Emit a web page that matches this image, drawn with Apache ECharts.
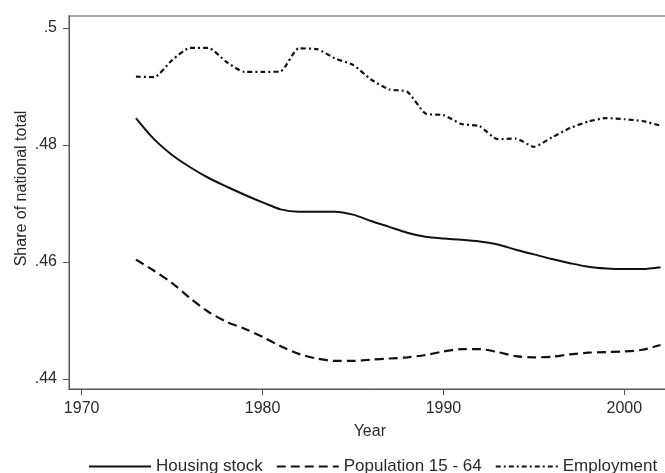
<!DOCTYPE html>
<html>
<head>
<meta charset="utf-8">
<script src="https://cdn.jsdelivr.net/npm/echarts@6/dist/echarts.min.js"></script>
<style>
  html, body { margin: 0; padding: 0; background: #fff; overflow: hidden; width: 665px; height: 473px; }
  #chart { width: 690px; height: 473px; }
</style>
</head>
<body>
<div id="chart"></div>
<script>
const years = [1973,1974,1975,1976,1977,1978,1979,1980,1981,1982,1983,1984,1985,1986,1987,1988,1989,1990,1991,1992,1993,1994,1995,1996,1997,1998,1999,2000,2001,2002];
const housingStock = [0.4846,0.4810,0.4783,0.4762,0.4744,0.4729,0.4715,0.4702,0.4690,0.4686,0.4686,0.4686,0.4681,0.4670,0.4660,0.4650,0.4643,0.4640,0.4638,0.4635,0.4630,0.4621,0.4613,0.4605,0.4598,0.4592,0.4589,0.4588,0.4588,0.4591];
const population = [0.4604,0.4585,0.4564,0.4538,0.4515,0.4498,0.4486,0.4472,0.4456,0.4443,0.4435,0.4431,0.4431,0.4433,0.4435,0.4437,0.4441,0.4447,0.4451,0.4451,0.4446,0.4439,0.4437,0.4438,0.4442,0.4445,0.4446,0.4447,0.4450,0.4458];
const employment = [0.4917,0.4916,0.4945,0.4966,0.4966,0.4942,0.4925,0.4925,0.4926,0.4965,0.4964,0.4948,0.4937,0.4912,0.4895,0.4891,0.4854,0.4851,0.4836,0.4832,0.4810,0.4811,0.4797,0.4813,0.4829,0.4840,0.4846,0.4844,0.4841,0.4833];
const seriesNames = ['Housing stock', 'Population 15 - 64', 'Employment'];
const xTicks = [1970, 1980, 1990, 2000];
const yTicks = [0.44, 0.46, 0.48, 0.5];

const pair = arr => years.map((y, i) => [y, arr[i]]);
const font = 'Liberation Sans, Arial, sans-serif';
const txt = '#2a2a2a';

const chart = echarts.init(document.getElementById('chart'), null, { renderer: 'canvas' });
chart.setOption({
  backgroundColor: '#fff',
  animation: false,
  grid: {
    left: 69, top: 16, right: 11.4, bottom: 84,
    show: true, borderColor: '#aaaaaa', borderWidth: 2, backgroundColor: 'transparent'
  },
  legend: {
    left: 83, top: 453,
    itemWidth: 62, itemHeight: 14, itemGap: 13,
    itemStyle: { opacity: 0, borderWidth: 0 },
    textStyle: { fontFamily: font, fontSize: 17, color: txt },
    data: seriesNames
  },
  xAxis: {
    type: 'value', min: 1969.3, max: 2003,
    name: 'Year', nameLocation: 'middle', nameGap: 35, nameMoveOverlap: false,
    nameTextStyle: { fontFamily: font, fontSize: 16, color: txt, padding: [0, 8, 0, 0] },
    axisLine: { show: true, lineStyle: { color: '#555', width: 1 } },
    axisTick: { show: true, length: 6, inside: false, customValues: xTicks, lineStyle: { color: '#555' } },
    axisLabel: { customValues: xTicks, margin: 12, fontFamily: font, fontSize: 16, color: txt, formatter: v => String(v) },
    splitLine: { show: false }
  },
  yAxis: {
    type: 'value', min: 0.43829, max: 0.50205,
    name: 'Share of national total', nameLocation: 'middle', nameGap: 39, nameRotate: 90, nameMoveOverlap: false,
    nameTextStyle: { fontFamily: font, fontSize: 16, color: txt, padding: [0, 0, 0, 28] },
    axisLine: { show: true, lineStyle: { color: '#555', width: 1 } },
    axisTick: { show: true, length: 6, inside: false, customValues: yTicks, lineStyle: { color: '#555' } },
    axisLabel: { customValues: yTicks, margin: 12, fontFamily: font, fontSize: 16, color: txt,
      formatter: v => String(+v.toFixed(2)).replace(/^0/, '') },
    splitLine: { show: false }
  },
  series: [
    { name: seriesNames[0], type: 'line', data: pair(housingStock), symbol: 'none', smooth: 0.3,
      lineStyle: { color: '#111', width: 2, type: 'solid' }, itemStyle: { color: '#111' } },
    { name: seriesNames[1], type: 'line', data: pair(population), symbol: 'none', smooth: 0.3,
      lineStyle: { color: '#111', width: 2.2, type: [9, 5] }, itemStyle: { color: '#111' } },
    { name: seriesNames[2], type: 'line', data: pair(employment), symbol: 'none', smooth: 0.2,
      lineStyle: { color: '#111', width: 2.2, type: [5, 3, 2, 3] }, itemStyle: { color: '#111' } }
  ]
});
</script>
</body>
</html>
